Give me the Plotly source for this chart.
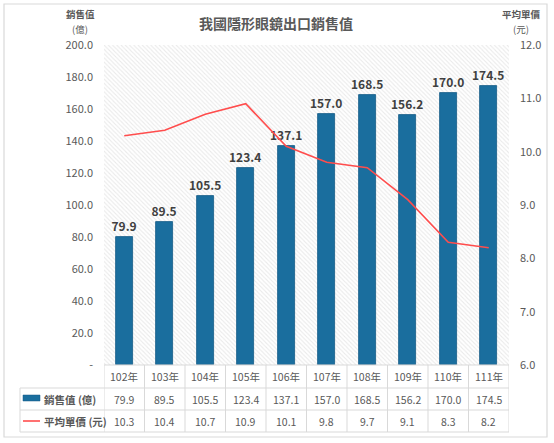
import plotly.graph_objects as go

years = ["102年", "103年", "104年", "105年", "106年", "107年", "108年", "109年", "110年", "111年"]
sales = [79.9, 89.5, 105.5, 123.4, 137.1, 157.0, 168.5, 156.2, 170.0, 174.5]
price = [10.3, 10.4, 10.7, 10.9, 10.1, 9.8, 9.7, 9.1, 8.3, 8.2]

y_max = 200
y2_min, y2_max = 6, 12

BAR = "#1A6E9E"
LINE = "#FF4D4D"
GRID = "#D9D9D9"
TXT = "#595959"
FONT = "Noto Sans CJK TC"

# pixel layout of the 554x443 page
L, R, T, B = 104, 509, 45, 365


def px(p):
    return (p - L) / (R - L)


def py(p):
    return (B - p) / (B - T)


def note(text, x, y, size=10.5, xref="paper", xanchor="center", **kw):
    fig.add_annotation(text=text, x=x, y=y, xref=xref, yref="paper", showarrow=False,
                       xanchor=xanchor, yanchor="middle", font=dict(size=size, color=TXT), **kw)


fig = go.Figure()

# hatched plot background
fig.add_trace(go.Bar(
    x=years, y=[y_max] * len(years), width=1,
    marker=dict(color="white", line_width=0,
                pattern=dict(shape="\\", fgcolor="#D4D4D4", bgcolor="white", size=3, solidity=0.35)),
    hoverinfo="skip", showlegend=False,
))

fig.add_trace(go.Bar(
    x=years, y=sales, name="銷售值 (億)", width=0.42,
    marker=dict(color=BAR, line=dict(color="#145A85", width=0.8)),
    text=[f"{v:.1f}" for v in sales], textposition="outside", constraintext="none",
    textfont=dict(size=12, color="#404040", family=FONT, weight="bold"),
    cliponaxis=False, showlegend=False,
))

fig.add_trace(go.Scatter(
    x=years, y=price, name="平均單價 (元)", yaxis="y2", mode="lines",
    line=dict(color=LINE, width=1.6), showlegend=False,
))

ticks = list(range(0, y_max + 1, 20))
fig.update_layout(
    width=554, height=443,
    margin=dict(l=L, r=554 - R, t=T, b=443 - B),
    paper_bgcolor="white", plot_bgcolor="white",
    barmode="overlay", bargap=0,
    font=dict(family=FONT, size=11, color=TXT),
    xaxis=dict(showticklabels=False, showgrid=False, showline=False, zeroline=False,
               range=[-0.5, len(years) - 0.5]),
    yaxis=dict(range=[0, y_max], tickvals=ticks,
               ticktext=["-" if t == 0 else f"{t:.1f}" for t in ticks],
               showgrid=False, zeroline=False,
               ticks="", ticklabelstandoff=10,
               tickfont=dict(size=11, color=TXT)),
    yaxis2=dict(range=[y2_min, y2_max], dtick=1, tickformat=".1f", overlaying="y", side="right",
                showgrid=False, zeroline=False, ticks="", ticklabelstandoff=10,
                tickfont=dict(size=11, color=TXT)),
)

# gridlines drawn above the hatch, below the bars
for t in ticks[1:]:
    fig.add_shape(type="line", xref="paper", yref="y", x0=0, x1=1, y0=t, y1=t,
                  line=dict(color=GRID, width=1), layer="between")

# title and axis titles
note("<b>我國隱形眼鏡出口銷售值</b>", px(276), py(23), size=14)
note("<b>銷售值</b>", px(80), py(14), size=9.5, borderpad=0)
note("(億)", px(80), py(29), size=9.5, borderpad=0)
note("<b>平均單價</b>", px(521), py(14), size=9.5, borderpad=0)
note("(元)", px(521), py(29), size=9.5, borderpad=0)

# outer frame
fig.add_shape(type="rect", xref="paper", yref="paper", x0=px(4), x1=px(547), y0=py(437), y1=py(4),
              line=dict(color="#D9D9D9", width=1.2), layer="below")

# data table
row_y = [B, 388, 410, 432]
fig.add_shape(type="line", xref="paper", yref="paper", x0=0, x1=1, y0=py(B), y1=py(B),
              line=dict(color=GRID, width=1))
for p in row_y[1:]:
    fig.add_shape(type="line", xref="paper", yref="paper", x0=px(20), x1=1, y0=py(p), y1=py(p),
                  line=dict(color=GRID, width=1))
fig.add_shape(type="line", xref="paper", yref="paper", x0=px(20), x1=px(20),
              y0=py(row_y[1]), y1=py(row_y[3]), line=dict(color=GRID, width=1))
for i in range(len(years) + 1):
    fig.add_shape(type="line", xref="x", yref="paper", x0=i - 0.5, x1=i - 0.5,
                  y0=py(B), y1=py(row_y[3]), line=dict(color=GRID, width=1))

mid = [(row_y[k] + row_y[k + 1]) / 2 for k in range(3)]
for i, yr in enumerate(years):
    note(yr, yr, py(mid[0]), xref="x")
    note(f"{sales[i]:.1f}", yr, py(mid[1]), xref="x")
    note(f"{price[i]:.1f}", yr, py(mid[2]), xref="x")

# legend keys inside the table
fig.add_shape(type="rect", xref="paper", yref="paper", x0=px(23), x1=px(40), y0=py(401), y1=py(395),
              fillcolor=BAR, line=dict(color="#145A85", width=0.5))
fig.add_shape(type="line", xref="paper", yref="paper", x0=px(23), x1=px(40), y0=py(421), y1=py(421),
              line=dict(color=LINE, width=1.6))
note("<b>銷售值 (億)</b>", px(42), py(mid[1]), xanchor="left")
note("<b>平均單價 (元)</b>", px(42), py(mid[2]), xanchor="left")

# page body has an 8px default margin; drop it so the figure sits at the window corner
fig.write_html("out.html", config={"displayModeBar": False},
               post_script="document.body.style.margin='0px';")
